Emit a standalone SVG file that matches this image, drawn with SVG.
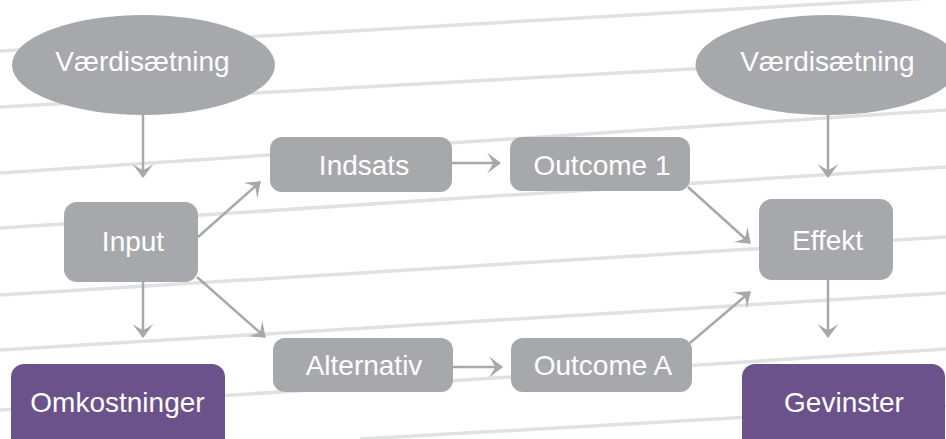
<svg xmlns="http://www.w3.org/2000/svg" width="946" height="439" viewBox="0 0 946 439">
<style>
.bg{stroke:#e1e1e1;stroke-width:3.5;fill:none}
.n{fill:#a7a8ab}
.p{fill:#6c528b}
.t{font-family:"Liberation Sans",Arial,sans-serif;font-size:28px;fill:#ffffff;text-anchor:middle}
.c{stroke:#a7a8ab;stroke-width:2.5;fill:none;marker-end:url(#ah)}
</style>
<defs>
<marker id="ah" markerUnits="userSpaceOnUse" viewBox="-15 -12 17 24" markerWidth="17" markerHeight="24" refX="0" refY="0" orient="auto">
<path d="M1,0 L-13,-10.5 Q-8,-3 -7,0 Q-8,3 -13,10.5 Z" fill="#a7a8ab"/>
</marker>
</defs>
<rect x="0" y="0" width="946" height="439" fill="#ffffff"/>
<g id="background-lines">
<line class="bg" x1="0" y1="51" x2="946" y2="-3"/>
<line class="bg" x1="0" y1="107" x2="946" y2="55"/>
<line class="bg" x1="0" y1="173" x2="946" y2="110"/>
<line class="bg" x1="0" y1="228" x2="946" y2="167"/>
<line class="bg" x1="0" y1="295" x2="946" y2="237"/>
<line class="bg" x1="0" y1="350" x2="946" y2="293"/>
<line class="bg" x1="0" y1="410" x2="946" y2="349"/>
<line class="bg" x1="360" y1="439" x2="946" y2="406"/>
</g>
<g id="connectors">
<line class="c" x1="143" y1="115" x2="143" y2="177"/>
<line class="c" x1="143" y1="282" x2="143" y2="337"/>
<line class="c" x1="198" y1="237" x2="260" y2="182"/>
<line class="c" x1="197" y1="277" x2="265" y2="337"/>
<line class="c" x1="452" y1="163" x2="500" y2="163"/>
<line class="c" x1="453" y1="367" x2="502" y2="367"/>
<line class="c" x1="688" y1="187" x2="750" y2="243"/>
<line class="c" x1="690" y1="343" x2="750" y2="292"/>
<line class="c" x1="828" y1="115" x2="828" y2="177"/>
<line class="c" x1="828" y1="280" x2="828" y2="337"/>
</g>
<g id="vaerdisaetning-left">
<ellipse class="n" cx="143.5" cy="65" rx="131.5" ry="50"/>
<text class="t" x="142.5" y="71">Værdisætning</text>
</g>
<g id="vaerdisaetning-right">
<ellipse class="n" cx="827" cy="65" rx="131.5" ry="50"/>
<text class="t" x="827.5" y="71">Værdisætning</text>
</g>
<g id="input">
<rect class="n" x="64" y="202" width="134" height="80" rx="13"/>
<text class="t" x="133" y="251">Input</text>
</g>
<g id="indsats">
<rect class="n" x="270" y="137" width="182" height="55" rx="12"/>
<text class="t" x="364" y="175">Indsats</text>
</g>
<g id="outcome-1">
<rect class="n" x="510" y="137" width="180" height="54" rx="12"/>
<text class="t" x="602" y="175">Outcome 1</text>
</g>
<g id="alternativ">
<rect class="n" x="273" y="338" width="180" height="54" rx="12"/>
<text class="t" x="364" y="375">Alternativ</text>
</g>
<g id="outcome-a">
<rect class="n" x="511" y="338" width="181" height="54" rx="12"/>
<text class="t" x="603" y="375">Outcome A</text>
</g>
<g id="effekt">
<rect class="n" x="759" y="199" width="134" height="81" rx="13"/>
<text class="t" x="827.5" y="250">Effekt</text>
</g>
<g id="omkostninger">
<rect class="p" x="11" y="364" width="214" height="90" rx="13"/>
<text class="t" x="117.5" y="412">Omkostninger</text>
</g>
<g id="gevinster">
<rect class="p" x="742" y="364" width="203" height="90" rx="13"/>
<text class="t" x="844" y="412">Gevinster</text>
</g>
</svg>
